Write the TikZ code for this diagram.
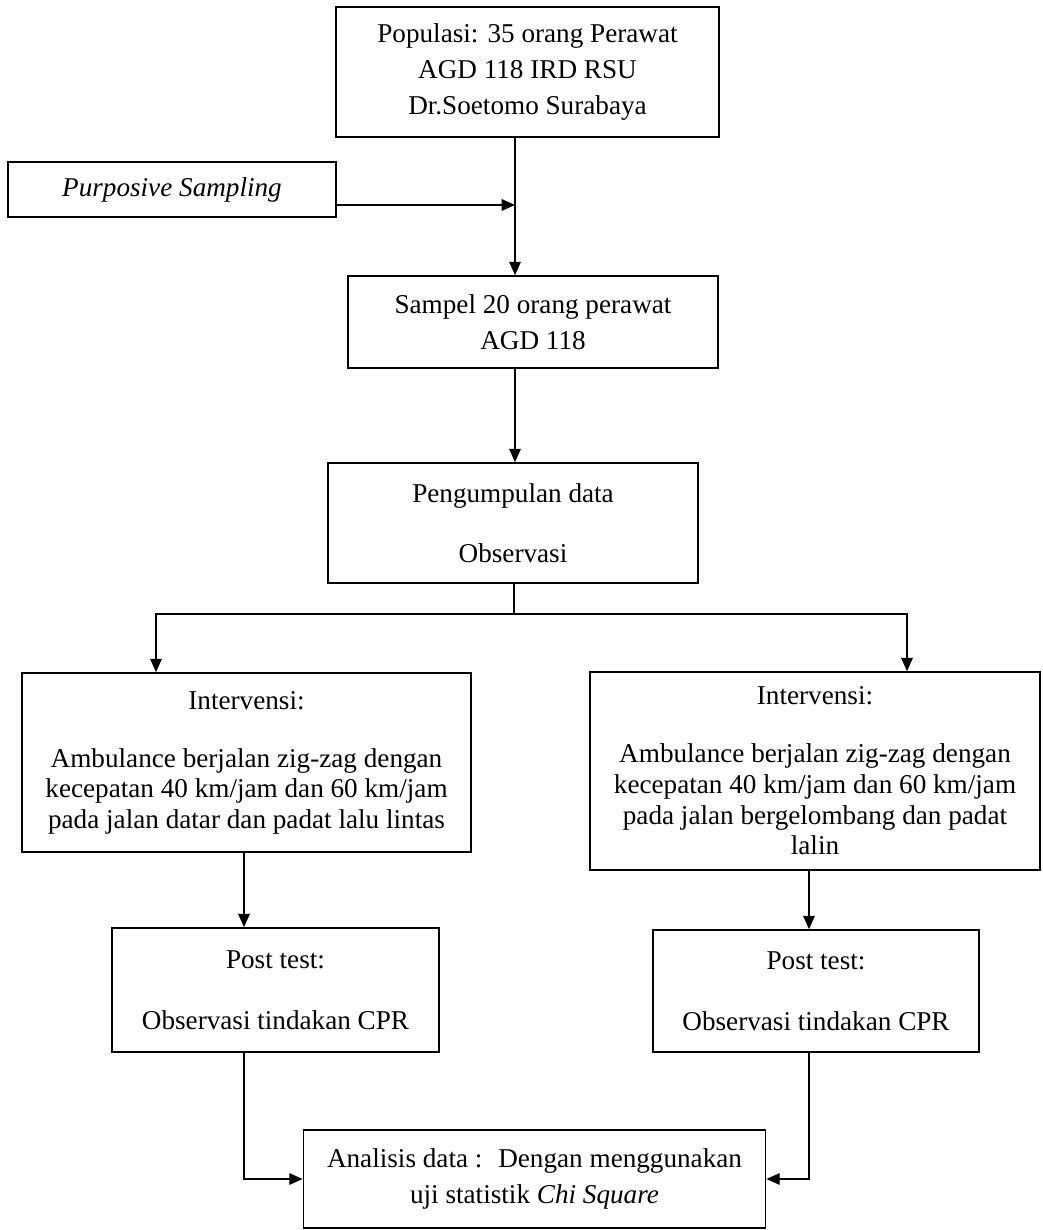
\documentclass[tikz,border=0pt]{standalone}
\usepackage{fontspec}
\setmainfont{Liberation Serif}
\usetikzlibrary{arrows.meta}

\begin{document}
\begin{tikzpicture}[x=0.4674pt,y=-0.4674pt]
	\tikzstyle{kotak}=[rectangle,thick,draw=black,fill=white,align=center,inner sep=0pt,font=\fontsize{12.7}{16.8}\selectfont]
	\tikzstyle{rapat}=[font=\fontsize{12.7}{14.3}\selectfont]
	\tikzstyle{edge}=[draw, semithick, -{Triangle[length=6.2pt,width=5.4pt]}]
	\useasboundingbox (0,0) rectangle (1042,1230);
	\begin{scope}
		\node [kotak, minimum width=179pt, minimum height=60.8pt] (pop) at (527.5,72) {Populasi: 35 orang Perawat\\AGD 118 IRD RSU\\Dr.Soetomo Surabaya};
		\node [kotak, minimum width=153.3pt, minimum height=25.7pt] (purp) at (172,189.5) {\textit{Purposive Sampling}};
		\node [kotak, minimum width=172.9pt, minimum height=43pt] (samp) at (533,322) {Sampel 20 orang perawat\\AGD 118};
		\node [kotak, minimum width=172.9pt, minimum height=56.1pt] (kumpul) at (513,523) {Pengumpulan data\\[11.2pt]Observasi};
		\node [kotak, rapat, minimum width=209.9pt, minimum height=83.7pt] (intL) at (246.5,762.5) {Intervensi:\\[12.8pt]Ambulance berjalan zig-zag dengan\\kecepatan 40 km/jam dan 60 km/jam\\pada jalan datar dan padat lalu lintas};
		\node [kotak, rapat, minimum width=210.3pt, minimum height=92.5pt] (intR) at (815,771) {Intervensi:\\[12.8pt]Ambulance berjalan zig-zag dengan\\kecepatan 40 km/jam dan 60 km/jam\\pada jalan bergelombang dan padat\\lalin};
		\node [kotak, minimum width=152.8pt, minimum height=58pt] (postL) at (275.5,990) {Post test:\\[11.7pt]Observasi tindakan CPR};
		\node [kotak, minimum width=152.4pt, minimum height=57pt] (postR) at (816,991) {Post test:\\[11.7pt]Observasi tindakan CPR};
		\node [kotak, minimum width=216pt, minimum height=45.8pt] (anal) at (534.5,1179) {Analisis data : \ Dengan menggunakan\\uji statistik \textit{Chi Square}};
		% titik bantu
		\coordinate (c1) at (515,0);
		\coordinate (c2) at (515,205);
		\coordinate (split) at (514,614);
		\coordinate (inL) at (156,0);
		\coordinate (inR) at (907,0);
		\coordinate (colL) at (244,0);
		\coordinate (colR) at (809,0);
		\path[edge] (pop.south -| c1) -- (samp.north -| c1);
		\path[edge] (purp.east |- c2) -- (c2);
		\path[edge] (samp.south -| c1) -- (kumpul.north -| c1);
		\draw[semithick] (kumpul.south -| split) -- (split);
		\path[edge] (split) -| (intL.north -| inL);
		\path[edge] (split) -| (intR.north -| inR);
		\path[edge] (intL.south -| colL) -- (postL.north -| colL);
		\path[edge] (intR.south -| colR) -- (postR.north -| colR);
		\path[edge] (postL.south -| colL) |- (anal.west);
		\path[edge] (postR.south -| colR) |- (anal.east);
	\end{scope}
\end{tikzpicture}
\end{document}
